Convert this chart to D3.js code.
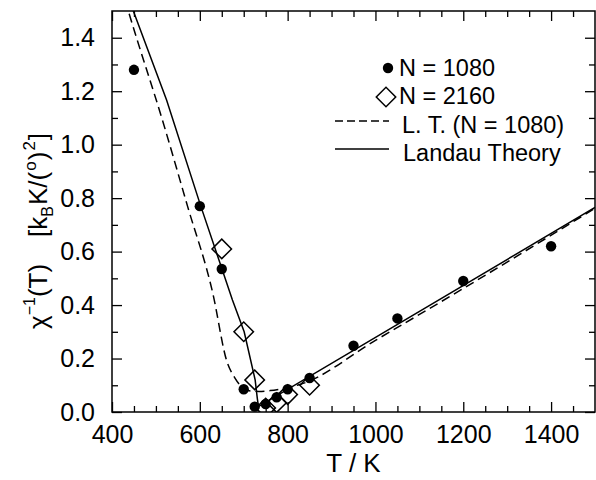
<!DOCTYPE html>
<html>
<head>
<meta charset="utf-8">
<script src="https://cdn.jsdelivr.net/npm/d3@7"></script>
<style>
  html, body { margin: 0; padding: 0; background: #fff; }
  svg { display: block; font-family: "Liberation Sans", Arial, Helvetica, sans-serif; }
</style>
</head>
<body>
<svg id="chart" width="596" height="480"></svg>
<script>
// ---- data ----
const tempsN1080 = [450, 600, 650, 700, 725, 750, 775, 800, 850, 950, 1050, 1200, 1400];
const chiN1080   = [1.28, 0.77, 0.535, 0.085, 0.02, 0.03, 0.055, 0.085, 0.127, 0.248, 0.35, 0.49, 0.62];
const tempsN2160 = [650, 700, 725, 750, 775, 800, 850];
const chiN2160   = [0.61, 0.30, 0.12, 0.015, 0.035, 0.065, 0.10];
const tempsLandau = [440, 448.6, 524.3, 602, 674.3, 701, 726, 731, 733.5, 1500];
const chiLandau   = [1.54, 1.5, 1.167, 0.771, 0.419, 0.30, 0.12, 0.05, 0.02, 0.765];
const tempsLT = [430, 437.2, 517, 572, 629.6, 661.5, 680.4, 691.8, 699, 715, 735, 760, 790, 830, 1000, 1200, 1500];
const chiLT   = [1.54, 1.5, 1.08, 0.77, 0.444, 0.19, 0.126, 0.10, 0.088, 0.079, 0.077, 0.08, 0.088, 0.104, 0.268, 0.462, 0.762];
const xMajorTicks = [400, 600, 800, 1000, 1200, 1400];
const xMinorTicks = [450, 500, 550, 650, 700, 750, 850, 900, 950, 1050, 1100, 1150, 1250, 1300, 1350, 1450];
const yMajorTicks = [0, 0.2, 0.4, 0.6, 0.8, 1.0, 1.2, 1.4];
const yMinorTicks = [0.1, 0.3, 0.5, 0.7, 0.9, 1.1, 1.3];
const legendLabels = ["N = 1080", "N = 2160", "L. T. (N = 1080)", "Landau Theory"];

// ---- layout ----
const L = 112, R = 595, T = 11, B = 412;
const svg = d3.select("#chart");
const x = d3.scaleLinear().domain([400, 1500]).range([L, R]);
const y = d3.scaleLinear().domain([0, 1.5]).range([B, T]);
const tickFont = 25;

svg.append("defs").append("clipPath").attr("id", "clip")
  .append("rect").attr("x", L).attr("y", T).attr("width", R - L).attr("height", B - T);

function styleAxis(g) {
  g.select(".domain").remove();
  g.selectAll(".tick line").attr("stroke", "#000").attr("stroke-width", 1.3);
  g.selectAll(".tick text").attr("fill", "#000").attr("font-size", tickFont)
    .attr("font-family", '"Liberation Sans", Arial, sans-serif');
}

// bottom
svg.append("g").attr("transform", `translate(0,${B})`)
  .call(d3.axisBottom(x).tickValues(xMajorTicks).tickSize(-10).tickPadding(13).tickFormat(d3.format("d")))
  .call(styleAxis);
svg.append("g").attr("transform", `translate(0,${B})`)
  .call(d3.axisBottom(x).tickValues(xMinorTicks).tickSize(-6).tickFormat(""))
  .call(styleAxis);
// top
svg.append("g").attr("transform", `translate(0,${T})`)
  .call(d3.axisTop(x).tickValues(xMajorTicks).tickSize(-10).tickFormat(""))
  .call(styleAxis);
svg.append("g").attr("transform", `translate(0,${T})`)
  .call(d3.axisTop(x).tickValues(xMinorTicks).tickSize(-6).tickFormat(""))
  .call(styleAxis);
// left
svg.append("g").attr("transform", `translate(${L},0)`)
  .call(d3.axisLeft(y).tickValues(yMajorTicks).tickSize(-10).tickPadding(17).tickFormat(d3.format(".1f")))
  .call(styleAxis);
svg.append("g").attr("transform", `translate(${L},0)`)
  .call(d3.axisLeft(y).tickValues(yMinorTicks).tickSize(-6).tickFormat(""))
  .call(styleAxis);
// right
svg.append("g").attr("transform", `translate(${R},0)`)
  .call(d3.axisRight(y).tickValues(yMajorTicks).tickSize(-10).tickFormat(""))
  .call(styleAxis);
svg.append("g").attr("transform", `translate(${R},0)`)
  .call(d3.axisRight(y).tickValues(yMinorTicks).tickSize(-6).tickFormat(""))
  .call(styleAxis);

// frame
svg.append("rect").attr("x", L).attr("y", T).attr("width", R - L).attr("height", B - T)
  .attr("fill", "none").attr("stroke", "#000").attr("stroke-width", 1.5);

// ---- lines ----
const plot = svg.append("g").attr("clip-path", "url(#clip)");
const landauData = tempsLandau.map((t, i) => [t, chiLandau[i]]);
const ltData = tempsLT.map((t, i) => [t, chiLT[i]]);
const lineLin = d3.line().x(d => x(d[0])).y(d => y(d[1]));
const lineSmooth = d3.line().x(d => x(d[0])).y(d => y(d[1])).curve(d3.curveMonotoneX);

plot.append("path").datum(ltData).attr("d", lineSmooth)
  .attr("fill", "none").attr("stroke", "#000").attr("stroke-width", 1.5).attr("stroke-dasharray", "9,5");
plot.append("path").datum(landauData).attr("d", lineLin)
  .attr("fill", "none").attr("stroke", "#000").attr("stroke-width", 1.5);

// ---- markers ----
const diamond = d3.symbol().type(d3.symbolSquare).size(190);
plot.selectAll(".dia").data(tempsN2160.map((t, i) => [t, chiN2160[i]])).join("path")
  .attr("d", diamond)
  .attr("transform", d => `translate(${x(d[0])},${y(d[1])}) rotate(45)`)
  .attr("fill", "none").attr("stroke", "#000").attr("stroke-width", 1.5);
plot.selectAll(".dot").data(tempsN1080.map((t, i) => [t, chiN1080[i]])).join("circle")
  .attr("cx", d => x(d[0])).attr("cy", d => y(d[1])).attr("r", 5.2).attr("fill", "#000");

// ---- legend ----
const lg = svg.append("g").attr("font-size", 23.5).attr("fill", "#000");
lg.append("circle").attr("cx", 388).attr("cy", 68).attr("r", 5.2).attr("fill", "#000");
lg.append("path").attr("d", diamond).attr("transform", "translate(386,97) rotate(45)")
  .attr("fill", "none").attr("stroke", "#000").attr("stroke-width", 1.5);
lg.append("line").attr("x1", 335).attr("x2", 389).attr("y1", 121).attr("y2", 121)
  .attr("stroke", "#000").attr("stroke-width", 1.5).attr("stroke-dasharray", "8,4");
lg.append("line").attr("x1", 335).attr("x2", 389).attr("y1", 149).attr("y2", 149)
  .attr("stroke", "#000").attr("stroke-width", 1.5);
const lx = [399, 399, 402, 403], ly = [76, 104, 133, 161];
legendLabels.forEach((s, i) => lg.append("text").attr("x", lx[i]).attr("y", ly[i]).text(s));

// ---- axis titles ----
svg.append("text").attr("x", (L + R) / 2).attr("y", 472).attr("text-anchor", "middle")
  .attr("font-size", 26).text("T / K");

const yt = svg.append("text").attr("transform", "translate(47,329) rotate(-90)")
  .attr("text-anchor", "start").attr("font-size", 26);
yt.append("tspan").text("χ");
yt.append("tspan").attr("font-size", 16).attr("dy", -12).text("−1");
yt.append("tspan").attr("dy", 12).text("(T)");
yt.append("tspan").attr("dx", 27).text("[k");
yt.append("tspan").attr("font-size", 16).attr("dy", 6).text("B");
yt.append("tspan").attr("dy", -6).attr("dx", 1).text("K/(");
yt.append("tspan").attr("font-size", 17).attr("dy", -11).attr("dx", 1).text("o");
yt.append("tspan").attr("dy", 11).attr("dx", 1).text(")");
yt.append("tspan").attr("font-size", 17).attr("dy", -12).attr("dx", 1).text("2");
yt.append("tspan").attr("dy", 12).attr("dx", 1).text("]");
</script>
</body>
</html>
